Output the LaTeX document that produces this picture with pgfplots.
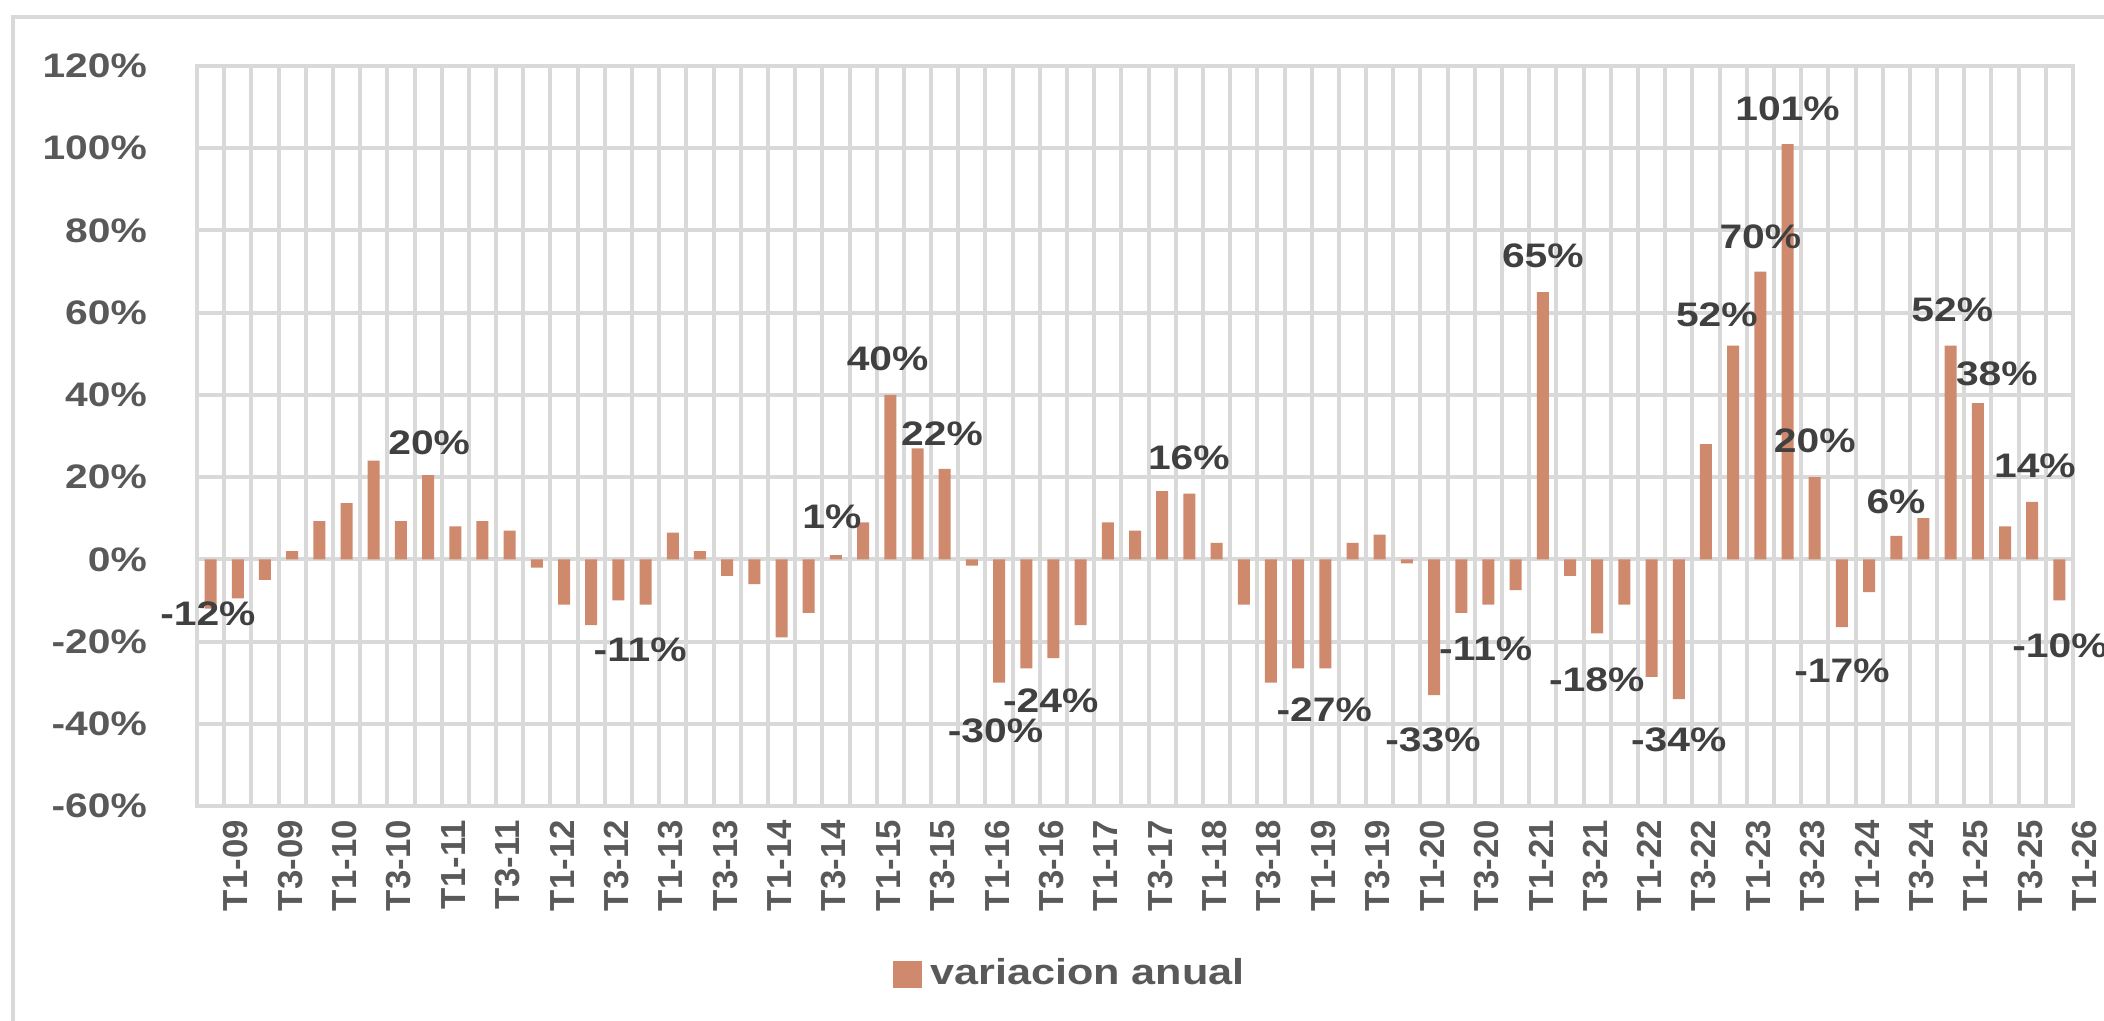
\documentclass[border=0pt]{standalone}
\usepackage{fontspec}
\setmainfont{Liberation Sans}[FakeStretch=1.2]
\newfontfamily\plainsans{Liberation Sans}
\usepackage{pgfplots}
\pgfplotsset{compat=1.18}
\definecolor{barcol}{HTML}{CF896C}
\definecolor{gridcol}{HTML}{D9D9D9}
\definecolor{ticktxt}{HTML}{595959}
\definecolor{labtxt}{HTML}{404040}
\begin{document}
\begin{tikzpicture}
\draw[gridcol, line width=0.9pt] (-46pt,-70pt) -- (-46pt,197.25pt) -- (500pt,197.25pt);
\begin{axis}[
  at={(0,0)}, anchor=south west,
  scale only axis, width=469pt, height=185pt,
  clip=false,
  xmin=-0.5, xmax=68.5, ymin=-60, ymax=120,
  xtick={0,2,...,68},
  xticklabels={T1-09,T3-09,T1-10,T3-10,T1-11,T3-11,T1-12,T3-12,T1-13,T3-13,T1-14,T3-14,T1-15,T3-15,T1-16,T3-16,T1-17,T3-17,T1-18,T3-18,T1-19,T3-19,T1-20,T3-20,T1-21,T3-21,T1-22,T3-22,T1-23,T3-23,T1-24,T3-24,T1-25,T3-25,T1-26},
  minor xtick={-0.5,0.5,...,68.5},
  ytick={-60,-40,...,120},
  yticklabels={-60\%,-40\%,-20\%,0\%,20\%,40\%,60\%,80\%,100\%,120\%},
  xminorgrids=true, ymajorgrids=true, xmajorgrids=false,
  grid style={gridcol, line width=1pt},
  minor grid style={gridcol, line width=1pt},
  axis line style={gridcol, line width=1pt},
  major tick length=0pt, minor tick length=0pt,
  xticklabel style={rotate=90, anchor=east, font=\plainsans\bfseries\fontsize{8.7}{9}\selectfont, text=ticktxt, yshift=-6.3pt},
  yticklabel style={font=\bfseries\fontsize{8.5}{10}\selectfont, text=ticktxt, xshift=-9pt},
  legend style={at={(0.467,-0.228)}, anchor=center, draw=none, fill=none,
    font=\bfseries\fontsize{9}{10}\selectfont, text=ticktxt},
  legend image code/.code={\fill[barcol] (0pt,-3.4pt) rectangle (7.2pt,3.5pt);},
]
\addplot[ybar, bar width=3pt, fill=barcol, draw=none] coordinates {
(0,-12) (1,-9.5) (2,-5) (3,2) (4,9.3) (5,13.7) (6,24) (7,9.3) (8,20.5) (9,8)
(10,9.3) (11,7) (12,-2) (13,-11) (14,-16) (15,-10) (16,-11) (17,6.5) (18,2) (19,-4)
(20,-6) (21,-19) (22,-13) (23,1) (24,9) (25,40) (26,27) (27,22) (28,-1.5) (29,-30)
(30,-26.5) (31,-24) (32,-16) (33,9) (34,7) (35,16.6) (36,16) (37,4) (38,-11) (39,-30)
(40,-26.5) (41,-26.5) (42,4) (43,6) (44,-1) (45,-33) (46,-13) (47,-11) (48,-7.5) (49,65)
(50,-4) (51,-18) (52,-11) (53,-28.6) (54,-34) (55,28) (56,52) (57,70) (58,101) (59,20)
(60,-16.5) (61,-8) (62,5.7) (63,10) (64,52) (65,38) (66,8) (67,14) (68,-10)
};
\addlegendentry{variacion anual}
\begin{scope}[every node/.style={font=\bfseries\fontsize{8.5}{10}\selectfont, text=labtxt, inner sep=0pt}]
\node at (axis cs:-0.1,-13.3) {-12\%};
\node at (axis cs:8.04,28.3) {20\%};
\node at (axis cs:15.8,-22.1) {-11\%};
\node at (axis cs:22.85,10.4) {1\%};
\node at (axis cs:24.9,48.8) {40\%};
\node at (axis cs:26.9,30.6) {22\%};
\node at (axis cs:28.87,-41.6) {-30\%};
\node at (axis cs:30.9,-34.5) {-24\%};
\node at (axis cs:35.98,24.7) {16\%};
\node at (axis cs:40.96,-36.7) {-27\%};
\node at (axis cs:44.96,-43.9) {-33\%};
\node at (axis cs:46.9,-21.8) {-11\%};
\node at (axis cs:49.0,73.8) {65\%};
\node at (axis cs:50.98,-29.3) {-18\%};
\node at (axis cs:54.0,-43.9) {-34\%};
\node at (axis cs:55.4,59.5) {52\%};
\node at (axis cs:57.0,78.5) {70\%};
\node at (axis cs:58.0,109.6) {101\%};
\node at (axis cs:59.0,28.8) {20\%};
\node at (axis cs:60.0,-27) {-17\%};
\node at (axis cs:61.99,14.1) {6\%};
\node at (axis cs:64.06,60.8) {52\%};
\node at (axis cs:65.7,45.1) {38\%};
\node at (axis cs:67.1,22.8) {14\%};
\node[anchor=east] at (axis cs:69.8,-21.1) {-10\%};
\end{scope}
\end{axis}
\pgfresetboundingbox
\useasboundingbox (-49.25pt,-53.5pt) rectangle (476.75pt,201.5pt);
\end{tikzpicture}
\end{document}
